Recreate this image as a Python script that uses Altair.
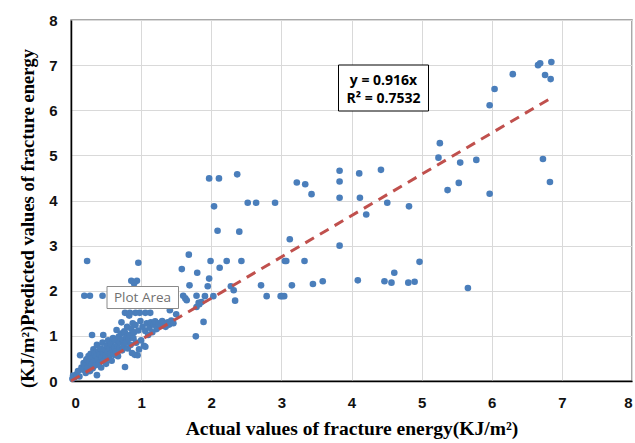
import altair as alt
import pandas as pd

# Actual (x) and predicted (y) fracture energy values
actual = [
    0.02, 0.03, 0.05, 0.08, 0.10, 0.12, 0.13, 0.15, 0.17, 0.18, 0.20, 0.21, 0.22, 0.24, 0.25, 0.26,
    0.27, 0.28, 0.29, 0.30, 0.30, 0.31, 0.32, 0.33, 0.34, 0.35, 0.36, 0.37, 0.37, 0.38, 0.39, 0.40,
    0.41, 0.42, 0.43, 0.44, 0.45, 0.46, 0.46, 0.47, 0.48, 0.49, 0.50, 0.51, 0.52, 0.53, 0.54, 0.55,
    0.56, 0.57, 0.58, 0.59, 0.60, 0.61, 0.62, 0.63, 0.64, 0.65, 0.66, 0.67, 0.68, 0.69, 0.70, 0.71,
    0.72, 0.73, 0.74, 0.75, 0.76, 0.77, 0.77, 0.78, 0.79, 0.80, 0.81, 0.82, 0.83, 0.84, 0.85, 0.86,
    0.87, 0.88, 0.89, 0.90, 0.91, 0.92, 0.93, 0.95, 0.96, 0.97, 0.99, 1.00, 1.02, 1.04, 1.06, 1.06,
    1.08, 1.10, 1.12, 1.14, 1.16, 1.18, 1.20, 1.22, 1.25, 1.28, 1.30, 1.32, 1.35, 1.38, 1.40, 1.43,
    1.46, 1.50, 1.41, 1.41,
    0.77, 0.84, 0.92, 0.98, 1.06, 1.13, 0.80, 0.87, 0.86, 0.94, 0.90, 0.96, 0.23, 0.19, 0.27, 0.45,
    1.60, 1.63, 1.65, 1.46, 1.58, 1.68, 1.69, 1.78, 1.89, 1.82, 1.86, 1.79, 1.91, 2.03, 1.80, 1.79,
    1.83, 1.95, 1.97, 2.28, 2.32, 2.34, 1.99, 2.22, 2.43, 2.12,
    1.97, 2.11, 2.37, 2.04, 2.52, 2.64, 2.91, 3.22, 3.34, 3.43, 2.09, 2.40, 3.12, 3.05, 3.07, 3.33,
    2.71, 3.15, 3.45, 3.59, 2.79, 2.99, 3.01, 3.04,
    3.83, 3.83, 3.83, 3.83, 4.11, 4.12, 4.21, 4.42, 4.51, 4.82, 4.09, 4.47, 4.57, 4.61, 4.81, 4.90,
    4.97,
    5.26, 5.24, 5.55, 5.78, 5.53, 5.37, 5.97, 6.73, 6.83, 5.66, 5.97, 6.04, 6.30, 6.66, 6.69, 6.85,
    6.76, 6.84,
]
predicted = [
    0.05, 0.12, 0.08, 0.15, 0.22, 0.10, 0.57, 0.30, 0.25, 0.40, 0.35, 0.18, 0.48, 0.30, 0.55, 0.42,
    0.22, 0.60, 0.38, 1.02, 0.50, 0.28, 0.70, 0.45, 0.62, 0.35, 0.55, 0.13, 0.80, 0.48, 0.66, 0.40,
    0.58, 0.72, 0.30, 0.52, 0.85, 1.02, 0.62, 0.45, 0.70, 0.56, 0.38, 0.78, 0.64, 0.90, 0.50, 0.72,
    0.60, 0.82, 0.45, 0.68, 0.95, 0.58, 0.75, 0.90, 0.66, 1.13, 0.80, 0.55, 0.98, 0.72, 0.86, 1.05,
    1.30, 0.68, 0.92, 0.78, 1.10, 0.31, 1.07, 0.85, 0.98, 1.20, 0.72, 0.93, 1.45, 1.02, 0.80, 1.15,
    0.62, 1.28, 0.95, 1.08, 0.58, 1.24, 0.85, 0.57, 1.12, 0.70, 1.33, 0.90, 1.20, 0.78, 1.11, 0.76,
    1.28, 1.02, 1.18, 1.30, 1.08, 1.25, 1.32, 1.15, 1.28, 1.22, 1.33, 1.27, 1.20, 1.30, 1.25, 1.34,
    1.28, 1.48, 1.57, 1.63,
    1.51, 1.51, 1.51, 1.51, 1.51, 1.51, 1.68, 1.70, 2.22, 2.22, 2.16, 2.62, 2.66, 1.89, 1.89, 1.89,
    1.89, 1.83, 1.79, 1.86, 2.48, 2.80, 2.12, 0.99, 1.31, 1.73, 1.75, 1.89, 1.88, 1.88, 2.40, 1.64,
    1.70, 2.10, 2.27, 2.10, 2.01, 1.78, 2.66, 2.66, 2.66, 2.51,
    4.49, 4.49, 4.58, 3.87, 3.95, 3.95, 3.95, 4.40, 4.36, 4.14, 3.33, 3.31, 3.14, 2.66, 2.66, 2.66,
    2.12, 2.12, 2.15, 2.21, 1.88, 1.88, 1.88, 1.88,
    4.66, 4.42, 4.06, 3.00, 4.60, 4.06, 3.69, 4.68, 3.95, 3.87, 2.23, 2.21, 2.18, 2.40, 2.18, 2.20,
    2.64,
    5.27, 4.95, 4.84, 4.90, 4.39, 4.23, 4.15, 4.92, 4.41, 2.06, 6.11, 6.47, 6.80, 7.00, 7.04, 7.07,
    6.78, 6.69,
]

slope = 0.916
eq_text = "y = 0.916x"
r2_text = "R² = 0.7532"
tip_text = "Plot Area"
trend_x = [0.0, 6.86]
axis_ticks = [0, 1, 2, 3, 4, 5, 6, 7, 8]

pts = pd.DataFrame({"actual": actual, "predicted": predicted})
trend = pd.DataFrame({"actual": trend_x, "predicted": [slope * v for v in trend_x]})
one = pd.DataFrame({"k": [0]})

W, H = 561, 361
xs = alt.Scale(domain=[0, 8], nice=False)
ys = alt.Scale(domain=[0, 8], nice=False)

x_enc = alt.X(
    "actual:Q", scale=xs,
    title="Actual values of fracture energy(KJ/m²)",
    axis=alt.Axis(values=axis_ticks, format="d", ticks=False, labelPadding=14,
                  labelFontSize=15, labelFontWeight="bold", labelFont="Liberation Sans",
                  labelColor="#111", titleFont="Liberation Serif", titleFontSize=19.5,
                  titleFontWeight="bold", titleColor="#000", titlePadding=9,
                  domainColor="#000", domainWidth=1.5, gridColor="#d9d9d9", gridWidth=1),
)
y_enc = alt.Y(
    "predicted:Q", scale=ys,
    title="(KJ/m²)Predicted values of fracture energy",
    axis=alt.Axis(values=axis_ticks, format="d", ticks=False, labelPadding=14,
                  labelFontSize=15, labelFontWeight="bold", labelFont="Liberation Sans",
                  labelColor="#111", titleFont="Liberation Serif", titleFontSize=18.5,
                  titleFontWeight="bold", titleColor="#000", titlePadding=11, titleY=198,
                  domainColor="#000", domainWidth=1.5, gridColor="#d9d9d9", gridWidth=1),
)

points = alt.Chart(pts).mark_circle(size=44, color="#4a7ebb", opacity=1).encode(x=x_enc, y=y_enc)

line = alt.Chart(trend).mark_line(color="#c0504d", strokeWidth=3, strokeDash=[10, 7]).encode(
    x=alt.X("actual:Q", scale=xs), y=alt.Y("predicted:Q", scale=ys)
)

box = alt.Chart(one).mark_rect(fill="white", stroke="#000", strokeWidth=1).encode(
    x=alt.value(267.5), x2=alt.value(357.5), y=alt.value(45), y2=alt.value(91)
)
eq = alt.Chart(one).mark_text(text=eq_text, font="Open Sans", fontSize=14, fontWeight="bold",
                              color="#000", align="center", baseline="middle").encode(
    x=alt.value(312.5), y=alt.value(61)
)
r2 = alt.Chart(one).mark_text(text=r2_text, font="Open Sans", fontSize=14, fontWeight="bold",
                              color="#000", align="center", baseline="middle").encode(
    x=alt.value(312.5), y=alt.value(79)
)

tip_box = alt.Chart(one).mark_rect(fill="white", stroke="#8a8a8a", strokeWidth=1).encode(
    x=alt.value(36), x2=alt.value(107.5), y=alt.value(266.5), y2=alt.value(288.5)
)
tip_txt = alt.Chart(one).mark_text(text=tip_text, font="Open Sans", fontSize=13.5,
                                   color="#707070", align="center", baseline="middle").encode(
    x=alt.value(71.5), y=alt.value(277.5)
)

chart = alt.layer(points, line, box, eq, r2, tip_box, tip_txt).properties(
    width=W, height=H,
    autosize=alt.AutoSizeParams(type="none"),
    padding={"left": 71, "top": 20, "right": 3, "bottom": 62},
    background="white",
).configure_view(stroke="#8c8c8c", strokeWidth=1.5)

chart.save("out.html", embed_options={"renderer": "svg", "actions": False})
